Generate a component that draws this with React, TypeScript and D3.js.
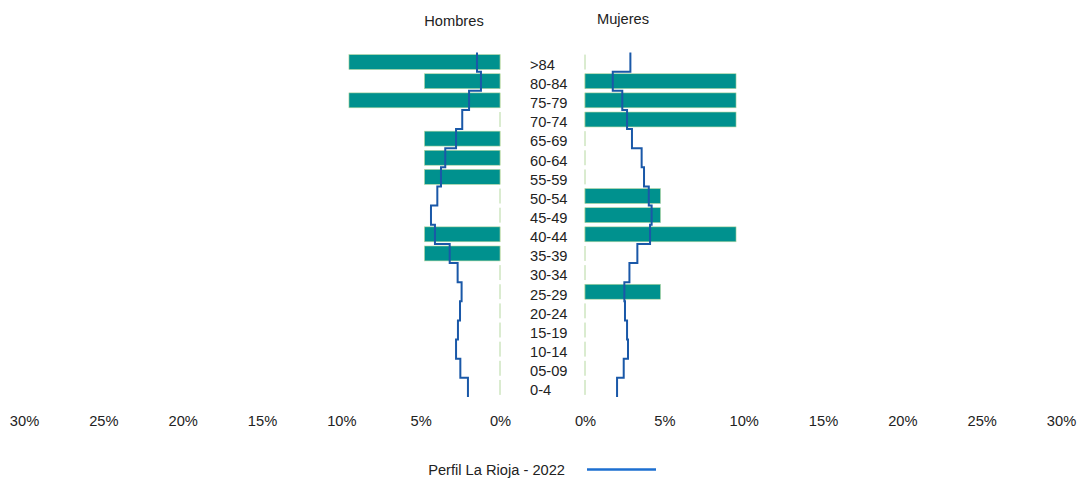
import React, { useEffect, useRef } from "react";
import * as d3 from "d3";

// Age groups, top to bottom
const ageGroups = [">84", "80-84", "75-79", "70-74", "65-69", "60-64", "55-59", "50-54", "45-49",
    "40-44", "35-39", "30-34", "25-29", "20-24", "15-19", "10-14", "05-09", "0-4"];

// Sample bars (% of total)
const menBars = [9.52, 4.76, 9.52, 0, 4.76, 4.76, 4.76, 0, 0, 4.76, 4.76, 0, 0, 0, 0, 0, 0, 0];
const womenBars = [0, 9.52, 9.52, 9.52, 0, 0, 0, 4.76, 4.76, 9.52, 0, 0, 4.76, 0, 0, 0, 0, 0];

// Perfil La Rioja - 2022 (step line)
const menProfile = [1.45, 1.2, 1.95, 2.38, 2.77, 3.45, 3.72, 3.95, 4.35, 4.1, 3.17, 2.67, 2.42, 2.52, 2.65, 2.77, 2.5, 2.02];
const womenProfile = [2.86, 1.75, 2.35, 2.65, 2.96, 3.57, 3.72, 4.02, 4.2, 4.1, 3.3, 2.8, 2.48, 2.52, 2.65, 2.71, 2.44, 2.02];

const tickValues = [0, 5, 10, 15, 20, 25, 30];
const legendLabel = "Perfil La Rioja - 2022";

const BAR_COLOR = "#00918e";
const BAR_STROKE = "#b5d8a0";
const LINE_COLOR = "#1a58a8";
const FONT = "'Liberation Sans', Arial, sans-serif";

const App = () => {
    const svgRef = useRef<SVGSVGElement>(null);

    useEffect(() => {
        const width = 1080;
        const height = 479;

        const svg = d3.select(svgRef.current);
        svg.selectAll("*").remove();
        svg.attr("width", width).attr("height", height);

        const xLeft = d3.scaleLinear().domain([0, 30]).range([500, 24]);
        const xRight = d3.scaleLinear().domain([0, 30]).range([585, 1061]);

        const y = d3.scaleBand<string>()
            .domain(ageGroups)
            .range([52.5, 397])
            .paddingInner(0.22)
            .paddingOuter(0.11);

        const step = y.step();
        const gap = (step - y.bandwidth()) / 2;

        const sides = [
            { x: xLeft, bars: menBars, profile: menProfile },
            { x: xRight, bars: womenBars, profile: womenProfile },
        ];

        sides.forEach((side) => {
            const g = svg.append("g");

            // zero lines (light green, one per row)
            g.selectAll("line.zero")
                .data(ageGroups)
                .enter()
                .append("line")
                .attr("x1", side.x(0))
                .attr("x2", side.x(0))
                .attr("y1", (d) => y(d)!)
                .attr("y2", (d) => y(d)! + y.bandwidth())
                .attr("stroke", BAR_STROKE)
                .attr("stroke-width", 1);

            g.selectAll("rect")
                .data(side.bars.map((v, i) => ({ v, age: ageGroups[i] })).filter((d) => d.v > 0))
                .enter()
                .append("rect")
                .attr("x", (d) => Math.min(side.x(0), side.x(d.v)))
                .attr("width", (d) => Math.abs(side.x(d.v) - side.x(0)))
                .attr("y", (d) => y(d.age)!)
                .attr("height", y.bandwidth())
                .attr("fill", BAR_COLOR)
                .attr("stroke", BAR_STROKE)
                .attr("stroke-width", 0.6);

            // step line
            const pts: [number, number][] = [];
            side.profile.forEach((v, i) => {
                const top = y(ageGroups[i])! - gap;
                pts.push([side.x(v), top]);
                pts.push([side.x(v), top + step]);
            });
            g.append("path")
                .attr("d", d3.line()(pts))
                .attr("fill", "none")
                .attr("stroke", LINE_COLOR)
                .attr("stroke-width", 2);

            // axis labels
            const axis = d3.axisBottom(side.x)
                .tickValues(tickValues)
                .tickSize(0)
                .tickPadding(0)
                .tickFormat((d) => `${d}%`);
            const ag = g.append("g").attr("transform", "translate(0, 416)").call(axis);
            ag.select(".domain").remove();
            ag.selectAll("text")
                .attr("font-family", FONT)
                .attr("font-size", 14.67)
                .attr("fill", "#222");
        });

        // age labels
        svg.append("g")
            .selectAll("text")
            .data(ageGroups)
            .enter()
            .append("text")
            .attr("x", 530)
            .attr("y", (d) => y(d)! + y.bandwidth() / 2 + 2.5)
            .attr("dy", "0.36em")
            .attr("font-family", FONT)
            .attr("font-size", 14.67)
            .attr("fill", "#222")
            .text((d) => d);

        // headers
        svg.append("text")
            .attr("x", 454).attr("y", 26)
            .attr("text-anchor", "middle")
            .attr("font-family", FONT).attr("font-size", 14.67).attr("fill", "#222")
            .text("Hombres");
        svg.append("text")
            .attr("x", 623).attr("y", 24)
            .attr("text-anchor", "middle")
            .attr("font-family", FONT).attr("font-size", 14.67).attr("fill", "#222")
            .text("Mujeres");

        // legend
        svg.append("text")
            .attr("x", 565).attr("y", 475)
            .attr("text-anchor", "end")
            .attr("font-family", FONT).attr("font-size", 14.67).attr("fill", "#222")
            .text(legendLabel);
        svg.append("line")
            .attr("x1", 587).attr("x2", 656)
            .attr("y1", 469.5).attr("y2", 469.5)
            .attr("stroke", "#1d6fd0")
            .attr("stroke-width", 2.5);
    }, []);

    return <svg ref={svgRef} style={{ position: "absolute", left: 0, top: 0, background: "#fff" }}></svg>;
};

export default App;
